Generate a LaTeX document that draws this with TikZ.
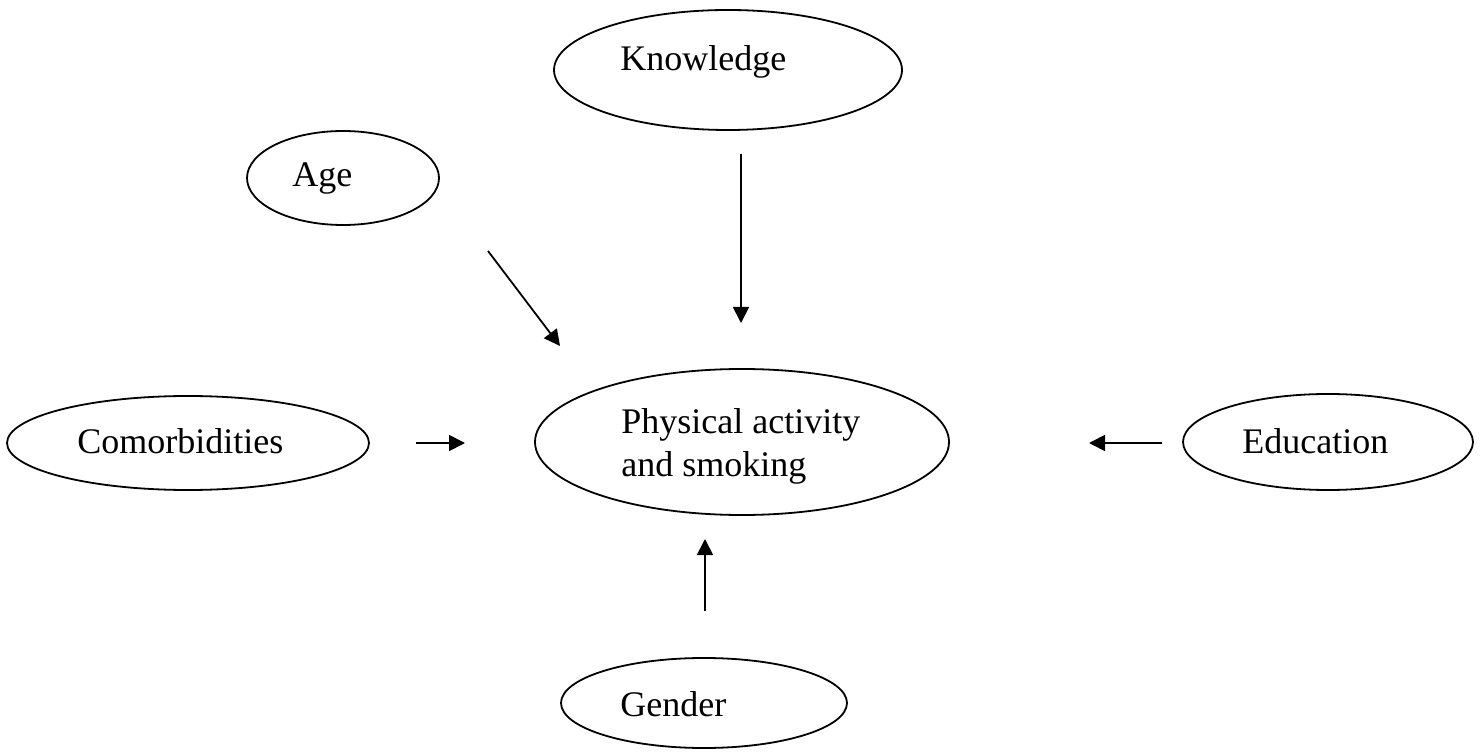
\documentclass[tikz,border=0pt]{standalone}
\usepackage{fontspec}
\setmainfont{Liberation Serif}
\usetikzlibrary{shapes.geometric,arrows.meta}
\begin{document}
\begin{tikzpicture}[x=0.5pt,y=-0.5pt,
  oval/.style={draw, ellipse, line width=0.9pt, inner sep=0pt},
  lbl/.style={anchor=base west, inner sep=0pt, font=\fontsize{18}{21.5}\selectfont},
  arr/.style={line width=0.9pt, -{Triangle[length=8pt,width=8pt]}}]
\useasboundingbox (0,0) rectangle (1483,753);
% ellipses
\node[oval, minimum width=174pt, minimum height=60pt] (know) at (728,70) {};
\node[oval, minimum width=96pt, minimum height=47pt] (age) at (343,178) {};
\node[oval, minimum width=181pt, minimum height=47pt] (como) at (188,443) {};
\node[oval, minimum width=207pt, minimum height=73pt] (pa) at (742,442) {};
\node[oval, minimum width=145pt, minimum height=48pt] (edu) at (1328,442) {};
\node[oval, minimum width=143pt, minimum height=45pt] (gen) at (704,703) {};
% texts
\node[lbl] (knowT) at (620,71) {Knowledge};
\node[lbl] (ageT) at (292,187) {Age};
\node[lbl] (comoT) at (77,453) {Comorbidities};
\node[lbl] (eduT) at (1242,453) {Education};
\node[lbl] (genT) at (620,716) {Gender};
\node[lbl] (paT1) at (621,434) {Physical activity};
\node[lbl] (paT2) at (621,477) {and smoking};
% arrow end points
\coordinate (k1) at (741,154);
\coordinate (k2) at (741,323);
\coordinate (a1) at (488,251);
\coordinate (a2) at (560,346);
\coordinate (c1) at (416,443);
\coordinate (c2) at (465,443);
\coordinate (e1) at (1162,443);
\coordinate (e2) at (1089,443);
\coordinate (g1) at (705,611);
\coordinate (g2) at (705,539);
\draw[arr] (k1) -- (k2);
\draw[arr] (a1) -- (a2);
\draw[arr] (c1) -- (c2);
\draw[arr] (e1) -- (e2);
\draw[arr] (g1) -- (g2);
\end{tikzpicture}
\end{document}
